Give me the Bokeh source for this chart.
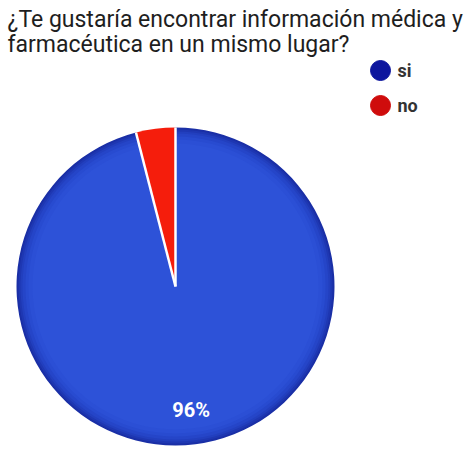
import math
from bokeh.plotting import figure
from bokeh.models import Range1d
from bokeh.core.properties import value
from bokeh.embed import file_html
from bokeh.resources import INLINE

# ---- data ----
title_lines = ["¿Te gustaría encontrar información médica y",
               "farmacéutica en un mismo lugar?"]
categories = ["no", "si"]
percentages = [4, 96]
slice_colors = ["#f51d0c", "#2d52d8"]
legend_order = ["si", "no"]
legend_colors = ["#0d169e", "#cf0c0c"]

W, H = 473, 456
p = figure(width=W, height=H, output_backend="svg", toolbar_location=None,
           x_range=Range1d(0, W), y_range=Range1d(0, H),
           min_border=0, outline_line_color=None)
p.axis.visible = False
p.grid.visible = False
p.background_fill_color = "white"

cx, cy, r = 175, H - 286, 159

# wedges: start at 12 o'clock, go counter-clockwise
starts, ends = [], []
acc = 0.0
total = sum(percentages)
for v in percentages:
    a0 = math.pi / 2 + 2 * math.pi * acc / total
    acc += v
    a1 = math.pi / 2 + 2 * math.pi * acc / total
    starts.append(a0)
    ends.append(a1)

# soft darker rim on the big slice (shading)
rim_offsets = [0, 2, 4, 6, 9, 12]
rim_colors = ["#1a2fa6", "#1e37b2", "#223fbe", "#2545c8", "#284bd0", "#2b4fd5"]
for off, col in zip(rim_offsets, rim_colors):
    p.wedge(x=[cx], y=[cy], radius=[r - off], start_angle=[starts[1]], end_angle=[ends[1]],
            fill_color=col, line_color=None)

p.wedge(x=[cx] * 2, y=[cy] * 2, radius=[r, r - 16], start_angle=starts, end_angle=ends,
        fill_color=slice_colors, line_color=None)
# white separators
for a in starts:
    p.segment(x0=[cx], y0=[cy], x1=[cx + r * math.cos(a)], y1=[cy + r * math.sin(a)],
              line_color="white", line_width=2.5)

# percentage label for the big slice
mid = (starts[1] + ends[1]) / 2
lr = 0.78 * r
p.text(x=[cx + lr * math.cos(mid)], y=[cy + lr * math.sin(mid)], text=[f"{percentages[1]}%"],
       text_color="white", text_font=value("Roboto"), text_font_style="bold",
       text_font_size="20px", text_align="center", text_baseline="middle")

# title
p.text(x=[7, 7], y=[H - 19, H - 44], text=title_lines, text_color="#1e1e1e",
       text_font=value("Roboto"), text_font_size="23px",
       text_align="left", text_baseline="middle")

# legend
lx = 380
ly = [H - 70, H - 105]
p.scatter(x=[lx] * 2, y=ly, size=20, marker="circle", fill_color=legend_colors,
          line_color=legend_colors)
p.text(x=[lx + 17] * 2, y=ly, text=legend_order, text_color="#333333",
       text_font=value("Roboto"), text_font_style="bold", text_font_size="18px",
       text_align="left", text_baseline="middle")

open("out.html", "w").write(file_html(p, INLINE))
